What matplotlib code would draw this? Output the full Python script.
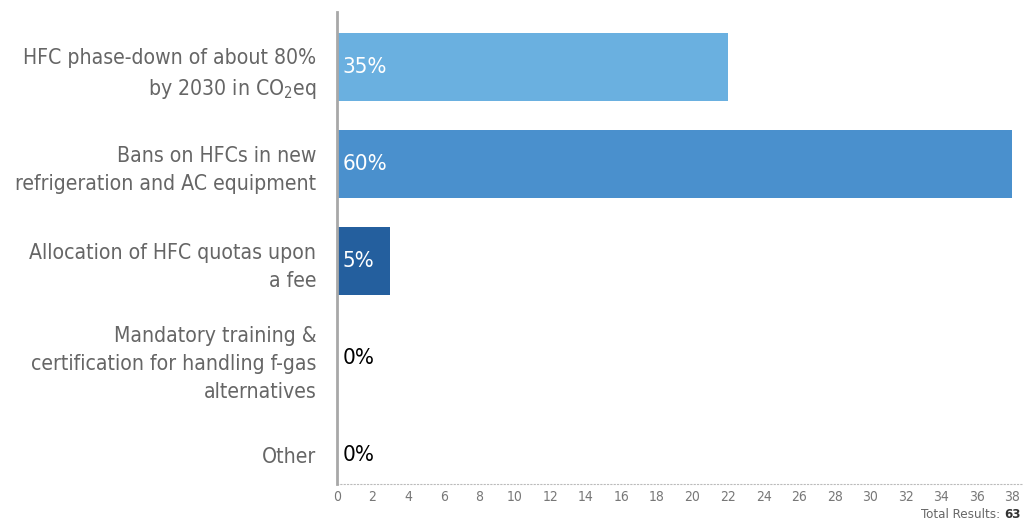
import matplotlib.pyplot as plt
import numpy as np

plt.rcParams['font.family'] = ['DejaVu Sans']
plt.rcParams['font.stretch'] = 'condensed'
plt.rcParams['mathtext.default'] = 'regular'

# Poll answers (vote counts out of the total)
categories = [
    'HFC phase-down of about 80%\nby 2030 in CO$_2$eq',
    'Bans on HFCs in new\nrefrigeration and AC equipment',
    'Allocation of HFC quotas upon\na fee',
    'Mandatory training &\ncertification for handling f-gas\nalternatives',
    'Other',
]
votes = [22, 38, 3, 0, 0]
percent_labels = ['35%', '60%', '5%', '0%', '0%']
total_results = 63
x_ticks = list(range(0, 40, 2))

bar_colors = ['#6ab0e0', '#4a90cd', '#245f9e', '#245f9e', '#245f9e']

fig = plt.figure(figsize=(10.23, 5.24), dpi=100)
ax = fig.add_axes([337 / 1023, 1 - 484 / 524, 1 - 337 / 1023, 472 / 524])

y = np.arange(len(categories))
ax.barh(y, votes, height=0.7, color=bar_colors, zorder=2)

for yi, v, lab in zip(y, votes, percent_labels):
    color = 'white' if v > 0 else 'black'
    ax.text(0.3, yi, lab, color=color, fontsize=16, va='center', ha='left', zorder=3)

ax.set_xlim(0, 38.6)
ax.set_ylim(4.3, -0.57)
ax.set_xticks(x_ticks)
ax.set_xticklabels([str(t) for t in x_ticks], fontsize=10, color='#777777')
ax.set_yticks(y)
ax.set_yticklabels(categories, fontsize=15.2, color='#666666', linespacing=1.5)
ax.tick_params(axis='y', length=0, pad=15)
ax.tick_params(axis='x', length=0, pad=4)

for side in ['top', 'right']:
    ax.spines[side].set_visible(False)
ax.spines['left'].set_color('#a8a8a8')
ax.spines['left'].set_linewidth(2)
ax.spines['left'].set_zorder(4)
ax.spines['bottom'].set_color('#bbbbbb')
ax.spines['bottom'].set_linestyle((0, (1, 2)))
ax.spines['bottom'].set_linewidth(0.8)

fig.text(1004 / 1023, 3 / 524, 'Total Results: ', ha='right', va='bottom',
         fontsize=9.5, color='#666666')
fig.text(1004 / 1023, 3 / 524, str(total_results), ha='left', va='bottom',
         fontsize=9.5, color='#333333', fontweight='bold')

fig.savefig('out.png', dpi=100)
